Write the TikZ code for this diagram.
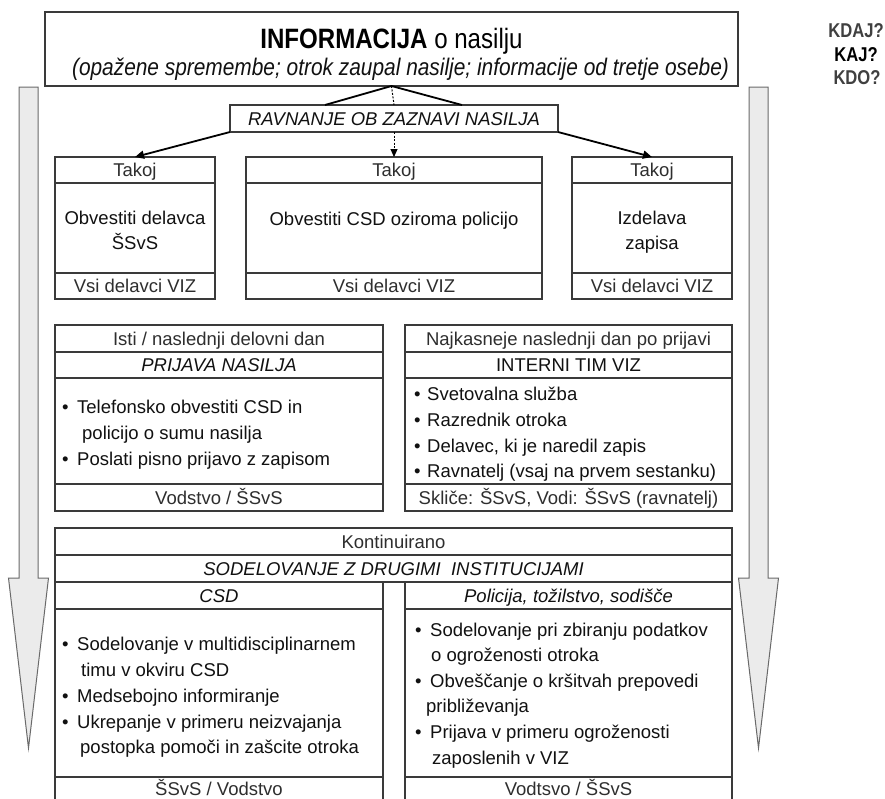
\documentclass[tikz,border=0pt]{standalone}
\usepackage{fontspec}
\setmainfont{Liberation Sans}
\usetikzlibrary{arrows.meta}
\definecolor{linec}{HTML}{3A3A3A}
\definecolor{hdrc}{HTML}{2E2E2E}
\definecolor{txtc}{HTML}{111111}
\definecolor{arrfill}{HTML}{EBEBEB}
\definecolor{arrline}{HTML}{6A6A6A}
\definecolor{qc}{HTML}{404040}
\newcommand\fsb{\fontsize{18.5}{22}\selectfont}
\tikzset{
  cell/.style={draw=linec, line width=1.3pt, inner sep=0pt, outer sep=0pt,
    anchor=north west, text=hdrc, font=\fsb, text height=13pt, text depth=0pt},
  ctxt/.style={font=\fsb, text=txtc, inner sep=0pt, anchor=base},
  foott/.style={font=\fsb, text=hdrc, inner sep=0pt, anchor=base},
  bodyt/.style={font=\fsb, text=txtc, inner sep=0pt, anchor=base west},
  quest/.style={font=\fontsize{20}{22}\selectfont\bfseries, text=qc, inner sep=0pt, anchor=base},
  conn/.style={draw=black, line width=1.8pt},
  connarr/.style={conn, -{Triangle[length=9pt,width=8pt]}},
  dotconn/.style={draw=black, line width=1pt, dash pattern=on 2pt off 1.5pt},
  bigarrow/.style={fill=arrfill, draw=arrline, line width=1pt, line join=miter},
}
\begin{document}
\begin{tikzpicture}[x=1pt,y=-1pt]
\useasboundingbox (0,0) rectangle (885,798);
\fill[white] (0,0) rectangle (885,798);
\clip (0,0) rectangle (885,798);

% large gray arrows
\draw[bigarrow] (19,87) -- (38,87) -- (38,578) -- (48.5,578) -- (28.5,748) -- (8.5,578) -- (19,578) -- cycle;
\draw[bigarrow] (749,87) -- (768,87) -- (768,578) -- (778.5,578) -- (758.5,748) -- (738.5,578) -- (749,578) -- cycle;

% questions
\node[quest] (q1) at (856,37) {\scalebox{0.83}[1]{KDAJ?}};
\node[quest, text=black] (q2) at (856,61) {\scalebox{0.83}[1]{KAJ?}};
\node[quest] (q3) at (857,84) {\scalebox{0.83}[1]{KDO?}};

% title box
\node[cell, minimum width=693pt, minimum height=74pt, line width=1.6pt] (info) at (45,12) {};
\node[inner sep=0pt, anchor=base, text=black, font=\fontsize{28}{30}\selectfont] (infoA) at (391.5,48)
  {\scalebox{0.86}[1]{\textbf{INFORMACIJA} o nasilju}};
\node[inner sep=0pt, anchor=base, text=txtc, font=\fontsize{24}{26}\selectfont\itshape] (infoB) at (400.5,75)
  {\scalebox{0.87}[1]{(opažene spremembe; otrok zaupal nasilje; informacije od tretje osebe)}};

% ravnanje box
\node[cell, minimum width=328pt, minimum height=27pt, font=\fsb\itshape, text=txtc] (ravn) at (230,105)
  {RAVNANJE OB ZAZNAVI NASILJA};
\coordinate (vL) at (325,105);
\coordinate (vR) at (462,105);
\draw[conn] (vL) -- (info.south) -- (vR);
\draw[dotconn] (info.south) -- (ravn.north);

% row 1
\node[cell, minimum width=160pt, minimum height=26pt] (a1h) at (55,157) {Takoj};
\node[cell, minimum width=160pt, minimum height=90pt] (a1b) at (55,183) {};
\node[cell, minimum width=160pt, minimum height=26pt] (a1f) at (55,273) {Vsi delavci VIZ};
\node[cell, minimum width=296pt, minimum height=26pt] (a2h) at (246,157) {Takoj};
\node[cell, minimum width=296pt, minimum height=90pt] (a2b) at (246,183) {};
\node[cell, minimum width=296pt, minimum height=26pt] (a2f) at (246,273) {Vsi delavci VIZ};
\node[cell, minimum width=160pt, minimum height=26pt] (a3h) at (572,157) {Takoj};
\node[cell, minimum width=160pt, minimum height=90pt] (a3b) at (572,183) {};
\node[cell, minimum width=160pt, minimum height=26pt] (a3f) at (572,273) {Vsi delavci VIZ};
\node[ctxt] (a1t1) at (135,224) {Obvestiti delavca};
\node[ctxt] (a1t2) at (135,249) {ŠSvS};
\node[ctxt] (a2t1) at (394,225) {Obvestiti CSD oziroma policijo};
\node[ctxt] (a3t1) at (652,224) {Izdelava};
\node[ctxt] (a3t2) at (652,249) {zapisa};

\draw[connarr] (ravn.south west) -- (a1h.north);
\draw[connarr] (ravn.south east) -- (a3h.north);
\draw[dotconn, -{Triangle[length=8pt,width=7pt]}] (ravn.south) -- (a2h.north);

% row 2
\node[cell, minimum width=328pt, minimum height=27pt] (b1h) at (55,325) {Isti / naslednji delovni dan};
\node[cell, minimum width=328pt, minimum height=26pt, font=\fsb\itshape, text=txtc] (b1s) at (55,352) {PRIJAVA NASILJA};
\node[cell, minimum width=328pt, minimum height=106pt] (b1b) at (55,378) {};
\node[cell, minimum width=328pt, minimum height=27pt] (b1f) at (55,484) {Vodstvo / ŠSvS};
\node[bodyt] (b1t1) at (62,413) {•\hspace{8.5pt}Telefonsko obvestiti CSD in};
\node[bodyt] (b1t2) at (82,439) {policijo o sumu nasilja};
\node[bodyt] (b1t3) at (62,465) {•\hspace{8.5pt}Poslati pisno prijavo z zapisom};

\node[cell, minimum width=327pt, minimum height=27pt] (b2h) at (405,325) {Najkasneje naslednji dan po prijavi};
\node[cell, minimum width=327pt, minimum height=26pt, text=txtc] (b2s) at (405,352) {INTERNI TIM VIZ};
\node[cell, minimum width=327pt, minimum height=106pt] (b2b) at (405,378) {};
\node[cell, minimum width=327pt, minimum height=27pt] (b2f) at (405,484) {Skliče: ŠSvS, Vodi: ŠSvS (ravnatelj)};
\node[bodyt] (b2t1) at (414,400) {•\hspace{6.5pt}Svetovalna služba};
\node[bodyt] (b2t2) at (414,426) {•\hspace{6.5pt}Razrednik otroka};
\node[bodyt] (b2t3) at (414,452) {•\hspace{6.5pt}Delavec, ki je naredil zapis};
\node[bodyt] (b2t4) at (414,477) {•\hspace{6.5pt}Ravnatelj (vsaj na prvem sestanku)};

% row 3
\node[cell, minimum width=677pt, minimum height=27pt] (c0h) at (55,528) {Kontinuirano};
\node[cell, minimum width=677pt, minimum height=27pt, font=\fsb\itshape, text=txtc] (c0s) at (55,555) {SODELOVANJE Z DRUGIMI\ \ INSTITUCIJAMI};
\node[cell, minimum width=328pt, minimum height=27pt, font=\fsb\itshape, text=txtc] (c1h) at (55,582) {CSD};
\node[cell, minimum width=328pt, minimum height=168pt] (c1b) at (55,609) {};
\node[cell, minimum width=328pt, minimum height=40pt] (c1f) at (55,777) {};
\node[foott] (c1ft) at (219,795.5) {ŠSvS / Vodstvo};
\node[bodyt] (c1t1) at (62,650) {•\hspace{8.5pt}Sodelovanje v multidisciplinarnem};
\node[bodyt] (c1t2) at (81,676) {timu v okviru CSD};
\node[bodyt] (c1t3) at (62,702) {•\hspace{8.5pt}Medsebojno informiranje};
\node[bodyt] (c1t4) at (62,728) {•\hspace{8.5pt}Ukrepanje v primeru neizvajanja};
\node[bodyt] (c1t5) at (80,753) {postopka pomoči in zašcite otroka};

\node[cell, minimum width=327pt, minimum height=27pt, font=\fsb\itshape, text=txtc] (c2h) at (405,582) {Policija, tožilstvo, sodišče};
\node[cell, minimum width=327pt, minimum height=168pt] (c2b) at (405,609) {};
\node[cell, minimum width=327pt, minimum height=40pt] (c2f) at (405,777) {};
\node[foott] (c2ft) at (568.5,795.5) {Vodtsvo / ŠSvS};
\node[bodyt] (c2t1) at (415,636) {•\hspace{8.5pt}Sodelovanje pri zbiranju podatkov};
\node[bodyt] (c2t2) at (431,661) {o ogroženosti otroka};
\node[bodyt] (c2t3) at (415,687) {•\hspace{8.5pt}Obveščanje o kršitvah prepovedi};
\node[bodyt] (c2t4) at (426,712) {približevanja};
\node[bodyt] (c2t5) at (415,738) {•\hspace{8.5pt}Prijava v primeru ogroženosti};
\node[bodyt] (c2t6) at (432,764) {zaposlenih v VIZ};
\end{tikzpicture}
\end{document}
